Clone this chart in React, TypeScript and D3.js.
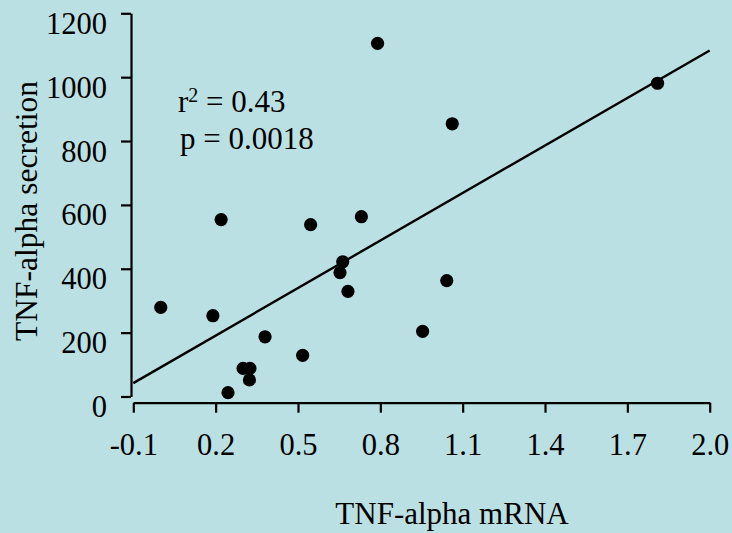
import { useEffect, useRef } from "react";
import * as d3 from "d3";

// values
const mrna = [
  0.0, 0.19, 0.22, 0.245, 0.3, 0.325, 0.323, 0.38, 0.517, 0.546, 0.653, 0.663,
  0.682, 0.731, 0.79, 0.954, 1.042, 1.062, 1.81,
];
const secretion = [
  279, 253, 554, 12, 88, 88, 52, 187, 129, 538, 388, 422, 329, 563, 1106, 204,
  363, 854, 981,
];
const xTicks = [-0.1, 0.2, 0.5, 0.8, 1.1, 1.4, 1.7, 2.0];
const yTicks = [0, 200, 400, 600, 800, 1000, 1200];
// regression line drawn in the figure
const fitIntercept = 91.6;
const fitSlope = 496;
const fitRange = [-0.1, 2.0];

const W = 732;
const H = 533;
const bg = "#bbe0e3";
const font = "'Liberation Serif', 'Times New Roman', serif";

const App = () => {
  const svgRef = useRef(null);

  useEffect(() => {
    const svg = d3.select(svgRef.current);
    svg.selectAll("*").remove();

    const x = d3.scaleLinear().domain([-0.1, 2.0]).range([133.3, 709.7]);
    const y = d3.scaleLinear().domain([0, 1200]).range([396.5, 13.3]);
    const xAxisY = 402.7;
    const yAxisX = 131;

    svg.append("rect").attr("width", W).attr("height", H).attr("fill", bg);

    // x axis (sits a little below y = 0)
    const gx = svg
      .append("g")
      .attr("transform", `translate(0,${xAxisY})`)
      .call(
        d3
          .axisBottom(x)
          .tickValues(xTicks)
          .tickFormat((d) => d.toFixed(1))
          .tickSize(10)
          .tickSizeOuter(0)
      );
    gx.select(".domain").attr("stroke", "#000").attr("stroke-width", 2.2);
    gx.selectAll(".tick line").attr("stroke", "#000").attr("stroke-width", 2.2);
    gx.selectAll(".tick text")
      .attr("y", 52)
      .attr("dy", 0)
      .attr("fill", "#000")
      .style("font-family", font)
      .style("font-size", "30.5px");

    // y axis
    const gy = svg
      .append("g")
      .attr("transform", `translate(${yAxisX},0)`)
      .call(
        d3
          .axisLeft(y)
          .tickValues(yTicks)
          .tickFormat((d) => String(d))
          .tickSize(10)
          .tickSizeOuter(0)
      );
    gy.select(".domain").attr("stroke", "#000").attr("stroke-width", 2.2);
    gy.selectAll(".tick line").attr("stroke", "#000").attr("stroke-width", 2.2);
    gy.selectAll(".tick text")
      .attr("x", -24)
      .attr("dy", 20)
      .attr("fill", "#000")
      .style("font-family", font)
      .style("font-size", "30.5px");

    // fit line
    const line = d3
      .line()
      .x((d) => x(d))
      .y((d) => y(fitIntercept + fitSlope * d));
    svg
      .append("path")
      .datum(fitRange)
      .attr("fill", "none")
      .attr("stroke", "#000")
      .attr("stroke-width", 2.4)
      .attr("d", line);

    // points
    svg
      .append("g")
      .selectAll("circle")
      .data(mrna)
      .join("circle")
      .attr("cx", (d) => x(d))
      .attr("cy", (d, i) => y(secretion[i]))
      .attr("r", 6.6)
      .attr("fill", "#000");

    // annotation
    const note = svg
      .append("g")
      .attr("fill", "#000")
      .style("font-family", font)
      .style("font-size", "31px");
    const r2 = note.append("text").attr("x", 178).attr("y", 112);
    r2.append("tspan").text("r");
    r2.append("tspan").attr("dy", -10).style("font-size", "20px").text("2");
    r2.append("tspan").attr("dy", 10).text(" = 0.43");
    note.append("text").attr("x", 180).attr("y", 149).text("p = 0.0018");

    // axis titles
    svg
      .append("text")
      .attr("x", 452)
      .attr("y", 524)
      .attr("text-anchor", "middle")
      .attr("fill", "#000")
      .style("font-family", font)
      .style("font-size", "31px")
      .text("TNF-alpha mRNA");

    svg
      .append("text")
      .attr("transform", "translate(37,211) rotate(-90)")
      .attr("text-anchor", "middle")
      .attr("fill", "#000")
      .style("font-family", font)
      .style("font-size", "31.5px")
      .text("TNF-alpha secretion");
  }, []);

  return (
    <svg
      ref={svgRef}
      width={W}
      height={H}
      style={{ position: "absolute", left: 0, top: 0, display: "block" }}
    />
  );
};

export default App;
